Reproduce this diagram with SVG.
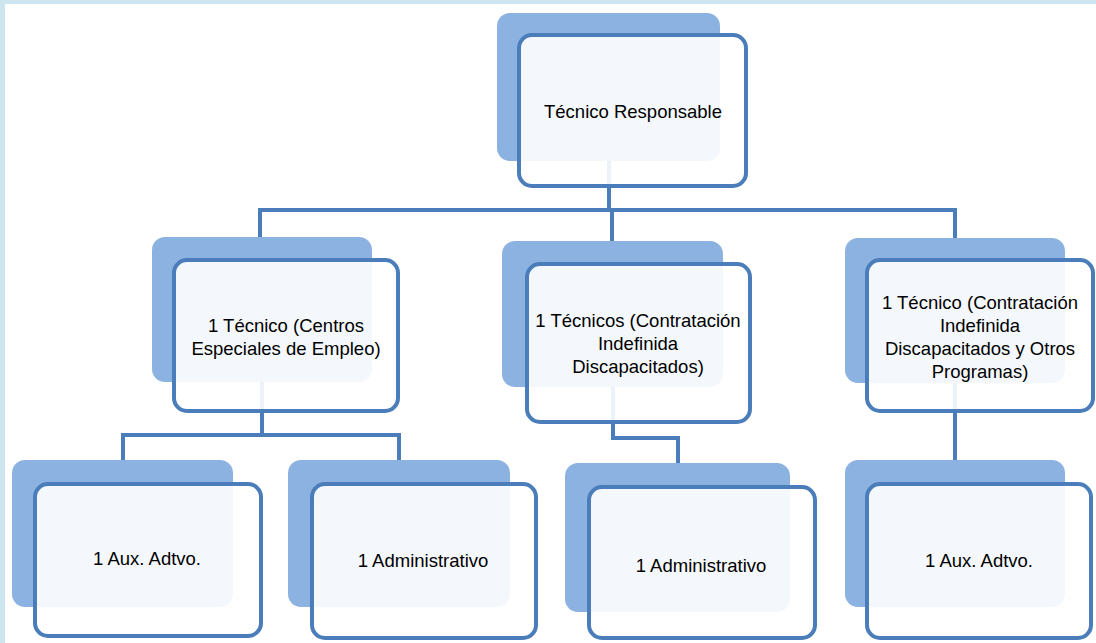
<svg xmlns="http://www.w3.org/2000/svg" width="1096" height="643" viewBox="0 0 1096 643">
<style>
.back{fill:#8cb2e1}
.front{fill:#ffffff;fill-opacity:0.9;stroke:#4a7dba;stroke-width:4}
.conn{fill:none;stroke:#4a7dba;stroke-width:4;stroke-linejoin:miter}
text{font-family:"Liberation Sans",Arial,sans-serif;font-size:18.5px;fill:#000000;text-anchor:middle}
</style>
<rect x="0" y="0" width="1096" height="643" fill="#ffffff"/>
<rect x="0" y="0" width="1096" height="4" fill="#cce5ee"/>
<rect x="0" y="0" width="5" height="643" fill="#cce5ee"/>
<g id="connectors">
<path class="conn" d="M609 161V210M260 237V210H955V238M612 210V241"/>
<path class="conn" d="M262 382V435M123 460V435H399V460"/>
<path class="conn" d="M613 387V438H678V463"/>
<path class="conn" d="M955 383V460"/>
</g>
<g id="n-top">
<rect class="back" x="497" y="13" width="223" height="148" rx="13"/>
<rect class="front" x="519" y="35" width="227" height="151" rx="13"/>
<text x="633" y="118">Técnico Responsable</text>
</g>
<g id="n-cee">
<rect class="back" x="152" y="237" width="220" height="145" rx="13"/>
<rect class="front" x="174" y="260" width="224" height="151" rx="13"/>
<text x="286" y="332">1 Técnico (Centros</text>
<text x="286" y="355">Especiales de Empleo)</text>
</g>
<g id="n-cid">
<rect class="back" x="502" y="241" width="221" height="146" rx="13"/>
<rect class="front" x="527" y="264" width="223" height="158" rx="13"/>
<text x="638" y="327">1 Técnicos (Contratación</text>
<text x="638" y="350">Indefinida</text>
<text x="638" y="373">Discapacitados)</text>
</g>
<g id="n-otros">
<rect class="back" x="845" y="238" width="220" height="145" rx="13"/>
<rect class="front" x="867" y="260" width="226" height="151" rx="13"/>
<text x="980" y="309">1 Técnico (Contratación</text>
<text x="980" y="332">Indefinida</text>
<text x="980" y="355">Discapacitados y Otros</text>
<text x="980" y="378">Programas)</text>
</g>
<g id="n-aux1">
<rect class="back" x="12" y="460" width="221" height="147" rx="13"/>
<rect class="front" x="35" y="484" width="226" height="152" rx="13"/>
<text x="147" y="565">1 Aux. Adtvo.</text>
</g>
<g id="n-adm1">
<rect class="back" x="288" y="460" width="222" height="147" rx="13"/>
<rect class="front" x="312" y="484" width="224" height="154" rx="13"/>
<text x="423" y="567">1 Administrativo</text>
</g>
<g id="n-adm2">
<rect class="back" x="565" y="463" width="225" height="149" rx="13"/>
<rect class="front" x="589" y="487" width="226" height="151" rx="13"/>
<text x="701" y="572">1 Administrativo</text>
</g>
<g id="n-aux2">
<rect class="back" x="845" y="460" width="220" height="147" rx="13"/>
<rect class="front" x="867" y="484" width="224" height="154" rx="13"/>
<text x="979" y="567">1 Aux. Adtvo.</text>
</g>
</svg>
